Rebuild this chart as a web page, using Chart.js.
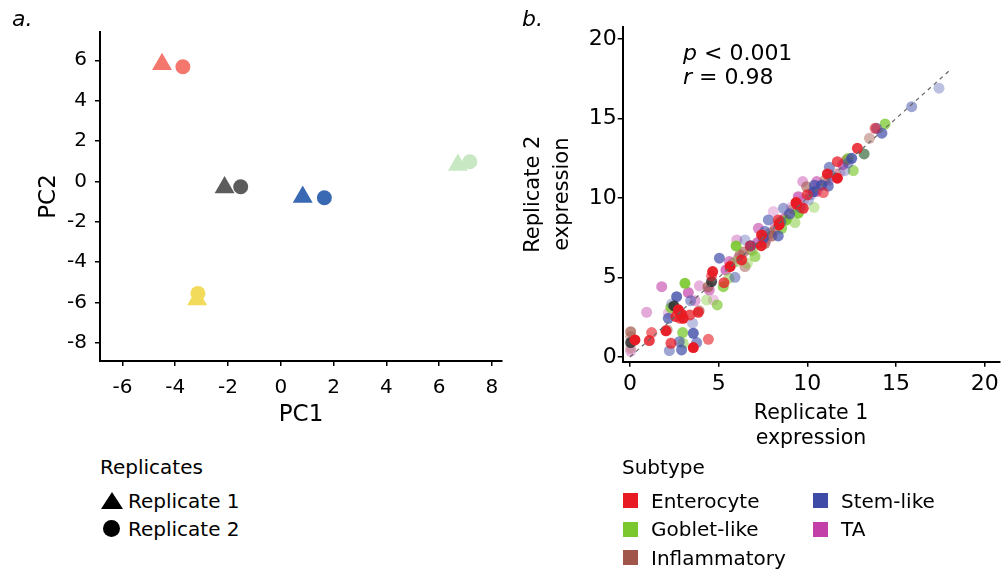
<!DOCTYPE html>
<html>
<head>
<meta charset="utf-8">
<script src="https://cdn.jsdelivr.net/npm/chart.js@4/dist/chart.umd.min.js"></script>
<style>
  html, body { margin:0; padding:0; background:#fff; }
  #wrap { position:relative; width:1005px; height:572px; overflow:hidden; font-family:"DejaVu Sans", sans-serif; color:#000; }
  canvas { position:absolute; top:0; }
  .t { position:absolute; white-space:nowrap; line-height:1.2; }
  .sq { position:absolute; width:15px; height:15px; }
</style>
</head>
<body>
<div id="wrap">
  <canvas id="ca" width="520" height="440" style="left:0px"></canvas>
  <canvas id="cb" width="495" height="460" style="left:510px"></canvas>

  <div class="t" style="left:12px; top:6px; font-size:22px; font-style:italic;">a.</div>
  <div class="t" style="left:522px; top:6px; font-size:22px; font-style:italic;">b.</div>

  <div class="t" style="left:683px; top:40px; font-size:22px;"><i>p</i> &lt; 0.001</div>
  <div class="t" style="left:683px; top:64px; font-size:22px;"><i>r</i> = 0.98</div>

  <div id="legA"></div>
  <div id="legB"></div>
</div>
<script>
// ---------- Panel a: PCA ----------
const pcaGroups   = ['G1', 'G2', 'G3', 'G4', 'G5'];
const rep1PC1     = [-4.5, -2.13, 0.83, 6.71, -3.17];
const rep1PC2     = [5.8, -0.3, -0.77, 0.81, -5.85];
const rep2PC1     = [-3.71, -1.52, 1.65, 7.16, -3.14];
const rep2PC2     = [5.68, -0.27, -0.81, 0.97, -5.55];
const pcaXTicks   = [-6, -4, -2, 0, 2, 4, 6, 8];
const pcaYTicks   = [-8, -6, -4, -2, 0, 2, 4, 6];
const replicateLabels = ['Replicate 1', 'Replicate 2'];

// ---------- Panel b: replicate correlation ----------
const subtypes = ['Enterocyte', 'Goblet-like', 'Inflammatory', 'Stem-like', 'TA'];
const enterocyte = [[0.28,1.07],[1.09,1.03],[1.22,1.53],[2.03,1.64],[2.31,0.86],[2.73,2.96],[2.59,2.54],[2.82,2.43],[3.0,2.43],[3.38,2.64],[3.57,0.59],[3.85,2.81],[4.42,1.11],[4.66,5.37],[5.3,4.67],[5.64,5.68],[6.3,6.1],[6.77,6.98],[7.42,7.67],[8.36,8.62],[9.36,9.71],[9.77,9.35],[10.9,10.34],[11.13,11.51],[11.69,12.28],[11.69,11.24],[12.82,13.12],[13.82,14.38],[7.4,7.0],[10.0,10.2],[8.4,8.3],[9.4,9.6],[4.6,5.1],[2.9,2.7]];
const gobletLike = [[2.97,1.53],[3.0,0.86],[3.1,4.63],[4.32,3.58],[4.92,3.27],[5.26,4.42],[5.58,4.95],[5.98,6.98],[6.62,5.89],[7.05,6.31],[8.55,8.09],[9.3,8.45],[9.49,9.04],[10.38,9.41],[12.59,11.72],[14.38,14.65],[6.9,6.7],[8.8,8.6],[6.0,6.0],[12.3,12.5],[2.3,3.1]];
const inflammatory = [[0.04,1.59],[0.04,1.28],[0.04,0.55],[6.2,6.42],[6.48,5.68],[7.61,7.15],[8.18,7.99],[8.93,8.87],[9.96,10.71],[11.0,11.13],[12.22,12.39],[13.5,13.75],[5.8,5.9],[6.4,6.6],[7.9,7.8],[8.0,7.6],[9.2,9.3],[11.6,11.5],[3.9,2.9],[2.1,1.7],[4.4,4.4]];
const stemLike = [[2.16,2.43],[2.22,0.4],[2.35,3.33],[2.63,3.79],[2.78,0.96],[2.91,0.44],[3.42,3.54],[3.53,2.12],[3.57,1.49],[3.76,0.9],[5.04,6.21],[5.92,5.01],[6.48,7.36],[7.52,7.46],[7.8,8.62],[8.36,7.61],[8.65,9.35],[10.06,9.87],[10.34,10.4],[11.24,11.93],[11.18,10.75],[11.37,11.38],[12.12,11.72],[12.5,12.49],[13.9,14.38],[14.2,14.07],[15.88,15.74],[17.42,16.9],[6.8,7.0],[8.5,8.5],[9.0,9.0],[9.6,9.4],[10.2,10.2],[10.8,10.8],[7.6,7.9],[10.4,10.8],[12.3,12.2]];
const taCells = [[0.94,2.81],[1.79,4.42],[2.16,2.75],[3.29,4.05],[3.91,4.47],[3.67,3.54],[4.47,4.21],[4.7,3.58],[5.41,5.47],[6.02,7.36],[6.8,6.73],[7.24,8.09],[8.08,9.14],[9.49,10.08],[9.59,9.56],[9.74,11.03],[10.53,11.03],[11.84,11.59],[7.2,7.2],[7.7,7.4],[8.2,8.2],[8.7,8.7],[9.8,9.9],[10.5,10.4],[11.2,11.1],[6.1,6.2],[5.6,6.0],[9.1,9.4],[12.0,12.1],[0.04,0.35]];
const overlapDark = [[0.04,0.9],[2.48,3.21],[4.6,4.74]];
const overlapGrey = [[8.42,8.41],[13.2,12.77]];
const identityLine = [[0,0],[18,18]];
const corrXTicks = [0, 5, 10, 15, 20];
const corrYTicks = [0, 5, 10, 15, 20];

// ---------- styles ----------
Chart.defaults.font.family = '"DejaVu Sans", sans-serif';
Chart.defaults.color = '#000';
const pcaColors = ['#f4776d', '#5c5c5c', '#3a69b3', '#c8e8c4', '#f2db5a'];
const subtypeRGB = ['232,27,36', '122,200,45', '160,86,74', '62,76,168', '194,64,168'];
const alphaCycles = [
  [1, 0.85, 0.6, 0.95, 0.75],
  [0.75, 0.5, 0.9, 0.4, 0.65],
  [0.7, 0.45, 0.35, 0.6, 0.5],
  [0.7, 0.5, 0.35, 0.8, 0.6],
  [0.45, 0.6, 0.3, 0.7, 0.4]
];
const toXY = arr => arr.map(p => ({x: p[0], y: p[1]}));

function axisCommon(ticksArr, fontSize, pad) {
  return {
    type: 'linear',
    afterBuildTicks: s => { s.ticks = ticksArr.map(v => ({value: v})); },
    ticks: { font: {size: fontSize}, color: '#000', padding: pad },
    grid: { drawOnChartArea: false, drawTicks: true, tickLength: 5, color: '#000', lineWidth: 1.5 },
    border: { display: true, color: '#000', width: 2 }
  };
}

// Panel a
const xa = axisCommon(pcaXTicks, 20, 10);
Object.assign(xa, { min: -6.85, max: 8.38,
  title: {display: true, text: 'PC1', font: {size: 23}, color: '#000', padding: {top: 0, bottom: 11}},
  afterFit: s => { s.height = 79; } });
const ya = axisCommon(pcaYTicks, 20, 8);
Object.assign(ya, { min: -8.9, max: 7.4,
  title: {display: true, text: 'PC2', font: {size: 23}, color: '#000', padding: {top: 35, bottom: 0}},
  afterFit: s => { s.width = 100; } });

new Chart(document.getElementById('ca'), {
  type: 'scatter',
  data: { datasets: [
    { label: replicateLabels[1], data: rep2PC1.map((x, i) => ({x, y: rep2PC2[i]})),
      pointStyle: 'circle', pointRadius: 7.5, pointBackgroundColor: pcaColors, pointBorderWidth: 0 },
    { label: replicateLabels[0], data: rep1PC1.map((x, i) => ({x, y: rep1PC2[i]})),
      pointStyle: 'triangle', pointRadius: 11.5, pointBackgroundColor: pcaColors, pointBorderWidth: 0 }
  ]},
  options: {
    responsive: false, animation: false, events: [],
    layout: { padding: {left: 0, top: 32, right: 18, bottom: 0} },
    plugins: { legend: {display: false}, tooltip: {enabled: false} },
    scales: { x: xa, y: ya }
  }
});

// Panel b
const xb = axisCommon(corrXTicks, 22, 4);
Object.assign(xb, { min: -0.41, max: 20.82,
  title: {display: true, text: ['Replicate 1', 'expression'], font: {size: 20.5, lineHeight: 1.2}, color: '#000', padding: {top: 0, bottom: 9}},
  afterFit: s => { s.height = 98.3; } });
const yb = axisCommon(corrYTicks, 22, 1);
Object.assign(yb, { min: -0.3, max: 20.77,
  title: {display: true, text: ['Replicate 2', 'expression'], font: {size: 21, lineHeight: 1.4}, color: '#000', padding: {top: 8.5, bottom: 0}},
  afterFit: s => { s.width = 112.7; } });

const seriesData = [enterocyte, gobletLike, inflammatory, stemLike, taCells];
const subtypeSets = seriesData.map((arr, k) => ({
  label: subtypes[k], data: toXY(arr), pointRadius: 5.5, pointBorderWidth: 0,
  pointBackgroundColor: arr.map((p, i) => 'rgba(' + subtypeRGB[k] + ',' + alphaCycles[k][i % 5] + ')')
}));

new Chart(document.getElementById('cb'), {
  type: 'scatter',
  data: { datasets: [
    { type: 'line', label: 'identity', data: toXY(identityLine), borderColor: '#666', borderWidth: 1.2,
      borderDash: [4, 4], pointRadius: 0, fill: false },
    subtypeSets[0],
    { label: 'overlap', data: toXY(overlapDark), pointRadius: 5.5, pointBorderWidth: 0, pointBackgroundColor: 'rgba(45,45,45,0.85)' },
    { label: 'overlap2', data: toXY(overlapGrey), pointRadius: 5.5, pointBorderWidth: 0, pointBackgroundColor: 'rgba(80,125,85,0.8)' },
    subtypeSets[3], subtypeSets[1], subtypeSets[2], subtypeSets[4]
  ]},
  options: {
    responsive: false, animation: false, events: [],
    layout: { padding: {left: 0, top: 26.7, right: 5.7, bottom: 0} },
    plugins: { legend: {display: false}, tooltip: {enabled: false} },
    scales: { x: xb, y: yb }
  }
});

// ---------- HTML legends ----------
const legA = document.getElementById('legA');
legA.innerHTML =
  '<div class="t" style="left:100px; top:455px; font-size:20px;">Replicates</div>' +
  '<div style="position:absolute; left:101px; top:492px; width:0; height:0; border-left:11px solid transparent; border-right:11px solid transparent; border-bottom:17px solid #000;"></div>' +
  '<div class="t" style="left:128px; top:489px; font-size:20px;">' + replicateLabels[0] + '</div>' +
  '<div style="position:absolute; left:103px; top:520px; width:17px; height:17px; border-radius:50%; background:#000;"></div>' +
  '<div class="t" style="left:128px; top:517px; font-size:20px;">' + replicateLabels[1] + '</div>';

const legB = document.getElementById('legB');
const legPos = [[623, 500.7], [623, 529], [623, 557.5], [813, 500.7], [813, 529]];
let html = '<div class="t" style="left:622px; top:455px; font-size:20px;">Subtype</div>';
subtypes.forEach((name, k) => {
  const [lx, cy] = legPos[k];
  html += '<div class="sq" style="left:' + lx + 'px; top:' + (cy - 7.5) + 'px; background:rgb(' + subtypeRGB[k] + ');"></div>';
  html += '<div class="t" style="left:' + (lx + 28) + 'px; top:' + (cy - 11.8) + 'px; font-size:20px;">' + name + '</div>';
});
legB.innerHTML = html;
</script>
</body>
</html>
